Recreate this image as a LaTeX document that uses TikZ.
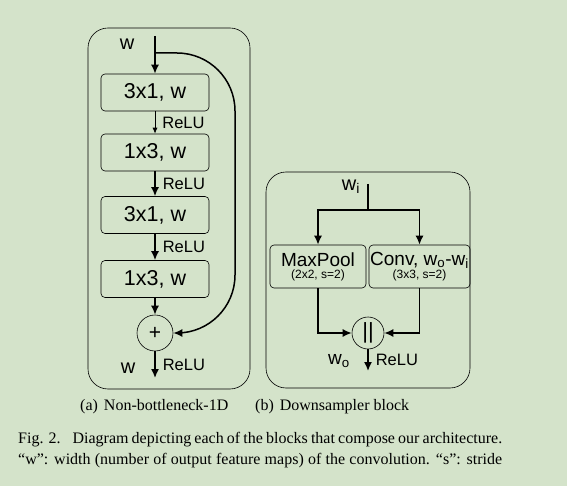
\documentclass[tikz,border=0pt]{standalone}
\usepackage{fontspec}
\setmainfont{Liberation Serif}
\setsansfont{Liberation Sans}
\usetikzlibrary{arrows.meta}
\definecolor{bgcol}{RGB}{212,227,202}

\begin{document}
\begin{tikzpicture}[x=1pt,y=-1pt,font=\sffamily]
\tikzstyle{block}=[draw, rounded corners=4pt, line width=0.6pt, inner sep=0pt, align=center]
\tikzstyle{merge}=[draw, circle, line width=0.6pt, inner sep=0pt]
\tikzstyle{conn}=[line width=1.5pt, -{Latex[length=9pt,width=8pt]}]
\tikzstyle{lbl}=[inner sep=0pt]
\tikzstyle{relu}=[lbl, midway, right=7pt, font=\sffamily\fontsize{16.5}{18}\selectfont]
\tikzstyle{capline}=[lbl, anchor=west, font=\rmfamily\fontsize{16}{18}\selectfont]
\fill[bgcol] (0,0) rectangle (567,486);

% (a) non-bottleneck-1D
\draw[line width=0.6pt, rounded corners=20pt] (88,28) rectangle (250,389);
\node[lbl, font=\sffamily\fontsize{20}{22}\selectfont] (win) at (127,44) {w};
\coordinate (in)    at (155,36);
\coordinate (split) at (155,53);
\coordinate (out)   at (155,378);
\node[block, minimum width=108pt, minimum height=37pt, font=\sffamily\fontsize{21.5}{24}\selectfont] (c1) at (155,92.5) {3x1, w};
\node[block, minimum width=108pt, minimum height=37pt, font=\sffamily\fontsize{21.5}{24}\selectfont] (c2) at (155,152.5) {1x3, w};
\node[block, minimum width=108pt, minimum height=37pt, font=\sffamily\fontsize{21.5}{24}\selectfont] (c3) at (155,215) {3x1, w};
\node[block, minimum width=108pt, minimum height=37pt, font=\sffamily\fontsize{21.5}{24}\selectfont] (c4) at (155,279) {1x3, w};
\node[merge, minimum size=36pt, font=\sffamily\fontsize{21}{22}\selectfont] (plus) at (155,333) {+};
\node[lbl, font=\sffamily\fontsize{20}{22}\selectfont] (wout) at (128,368) {w};

\draw[conn] (in) -- (c1);
\draw[line width=0.8pt, -{Latex[length=6pt,width=5pt]}] (c1) -- (c2)
    node [relu] {ReLU};
\draw[conn] (c2) -- (c3)
    node [relu] {ReLU};
\draw[conn] (c3) -- (c4)
    node [relu] {ReLU};
\draw[conn] (c4) -- (plus);
\draw[conn] (plus) -- (out)
    node [relu] {ReLU};
\draw[conn, rounded corners=58pt] (split) -| (235,333) -- (plus);

% (b) downsampler block
\draw[line width=0.6pt, rounded corners=20pt] (266,172) rectangle (470,388);
\node[lbl, font=\sffamily\fontsize{20}{22}\selectfont] (wi) at (351,187) {w\textsubscript{i}};
\coordinate (din)    at (368,184);
\coordinate (dsplit) at (368,210);
\coordinate (dout)   at (368,371);
\node[block, minimum width=96pt, minimum height=43pt] (pool) at (318,266.5)
    {{\fontsize{19}{20}\selectfont MaxPool}\\{\fontsize{12}{14}\selectfont (2x2, s=2)}};
\node[block, minimum width=101pt, minimum height=43pt] (conv) at (419.5,266.5)
    {{\fontsize{19}{20}\selectfont Conv, w\textsubscript{o}-w\textsubscript{i}}\\{\fontsize{12}{14}\selectfont (3x3, s=2)}};
\node[merge, minimum size=32pt, font=\sffamily\fontsize{22}{24}\selectfont] (cat) at (368,333) {||};
\node[lbl, font=\sffamily\fontsize{19}{22}\selectfont] (wo) at (339,361) {w\textsubscript{o}};

\draw[line width=1.5pt] (din) -- (dsplit);
\draw[conn] (dsplit) -| (pool);
\draw[conn] (dsplit) -| (conv);
\draw[conn] (pool) |- (cat);
\draw[conn] (conv) |- (cat);
\draw[conn] (cat) -- (dout)
    node [relu] {ReLU};

% captions
\node[capline] (capa) at (80,407) {(a)\hspace{6pt}Non-bottleneck-1D};
\node[capline] (capb) at (255,407) {(b)\hspace{6pt}Downsampler block};
\node[capline] (fig1) at (18,440) {\makebox[484pt][s]{Fig. 2.\hspace{12pt}Diagram depicting each of the blocks that compose our architecture.}};
\node[capline] (fig2) at (18,461) {\makebox[484pt][s]{“w”: width (number of output feature maps) of the convolution. “s”: stride}};
\end{tikzpicture}
\end{document}
